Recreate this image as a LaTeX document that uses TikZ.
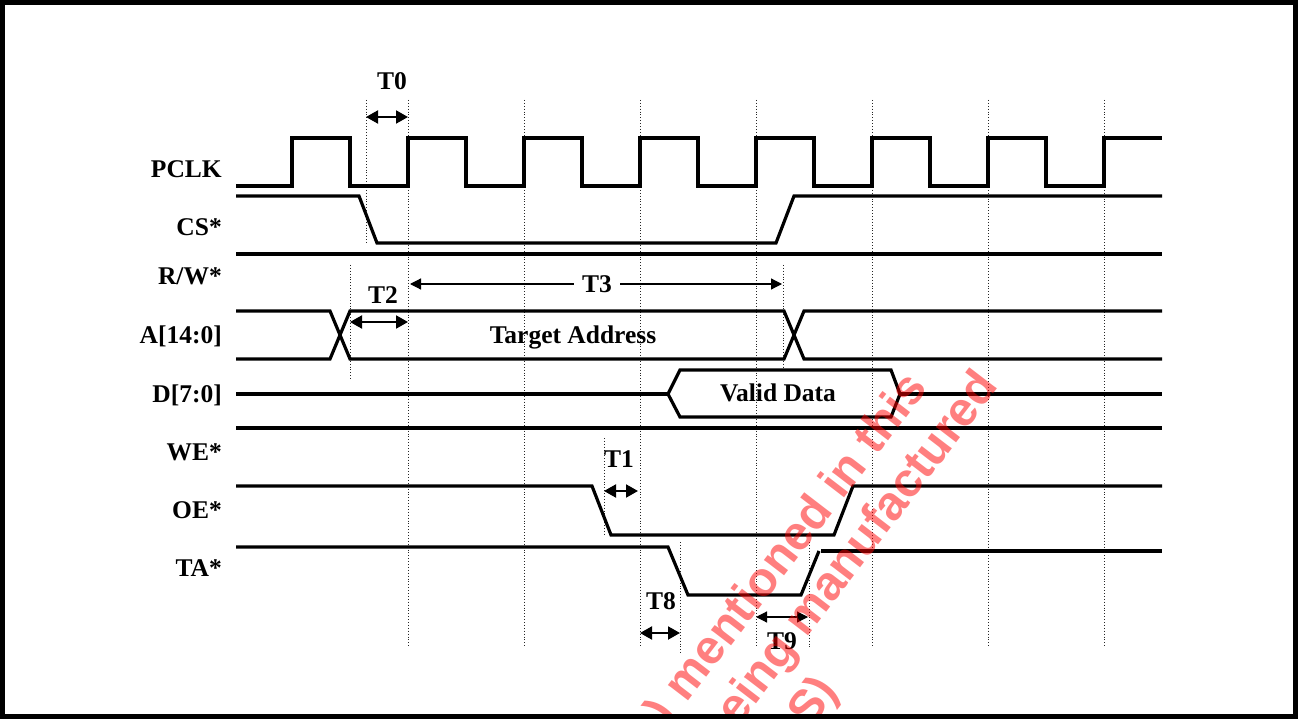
\documentclass[tikz,border=0pt]{standalone}
\usepackage{fontspec}
\setmainfont{Liberation Serif}
\newfontfamily\wmfont{Liberation Sans}
\usetikzlibrary{arrows.meta}
\begin{document}
\begin{tikzpicture}[x=1pt,y=-1pt,
  sig/.style={line width=3.2pt, line join=miter},
  gridl/.style={line width=0.9pt, dotted, black!85},
  lbl/.style={font=\fontsize{25.5}{30}\selectfont\bfseries, inner sep=0pt},
  dim/.style={line width=2pt, {Triangle[length=12pt,width=13pt]}-{Triangle[length=12pt,width=13pt]}},
  thindim/.style={line width=1.2pt, {Triangle[length=11pt,width=11pt]}-{Triangle[length=11pt,width=11pt]}},
  larr/.style={line width=1.2pt, {Triangle[length=11pt,width=11pt]}-},
  rarr/.style={line width=1.2pt, -{Triangle[length=11pt,width=11pt]}},
  wm/.style={font=\wmfont\fontsize{48}{50}\selectfont\bfseries, text=red, opacity=0.5, rotate=52.5, inner sep=0pt}
]
\useasboundingbox (0,0) rectangle (1298,719);
\fill[white] (0,0) rectangle (1298,719);

% grid lines
\foreach \gx in {408,524,640,756,872,988,1104}{
  \draw[gridl] (\gx,100) -- (\gx,648);
}
\draw[gridl] (366,100) -- (366,243);
\draw[gridl] (350,265) -- (350,380);
\draw[gridl] (783,265) -- (783,368);
\draw[gridl] (604,438) -- (604,535);
\draw[gridl] (680,542) -- (680,655);
\draw[gridl] (809,542) -- (809,648);

% labels
\node[lbl, anchor=base east] (lpclk) at (222,178) {PCLK};
\node[lbl, anchor=base east] (lcs) at (222,236) {CS*};
\node[lbl, anchor=base east] (lrw) at (222,285) {R/W*};
\node[lbl, anchor=base east] (la) at (222,343) {A[14:0]};
\node[lbl, anchor=base east] (ld) at (222,402) {D[7:0]};
\node[lbl, anchor=base east] (lwe) at (222,460) {WE*};
\node[lbl, anchor=base east] (loe) at (222,518) {OE*};
\node[lbl, anchor=base east] (lta) at (222,576) {TA*};

% PCLK
\draw[sig] (236,186) -- (292,186) -- (292,138) -- (350,138) -- (350,186)
  -- (408,186) -- (408,138) -- (466,138) -- (466,186)
  -- (524,186) -- (524,138) -- (582,138) -- (582,186)
  -- (640,186) -- (640,138) -- (698,138) -- (698,186)
  -- (756,186) -- (756,138) -- (814,138) -- (814,186)
  -- (872,186) -- (872,138) -- (930,138) -- (930,186)
  -- (988,186) -- (988,138) -- (1046,138) -- (1046,186)
  -- (1104,186) -- (1104,138) -- (1162,138);

% CS*
\draw[sig] (236,196) -- (359,196) -- (377,243) -- (776,243) -- (794,196) -- (1162,196);
% R/W*
\draw[sig] (236,254) -- (1162,254);
% A[14:0]
\draw[sig] (236,311) -- (330,311) -- (350,359) -- (784,359) -- (804,311) -- (1162,311);
\draw[sig] (236,359) -- (330,359) -- (350,311) -- (784,311) -- (804,359) -- (1162,359);
\node[lbl, anchor=base] (ta) at (573,343) {Target Address};
% D[7:0]
\draw[sig] (236,394) -- (668,394);
\draw[sig] (668,394) -- (680,370) -- (891,370) -- (900,394) -- (891,417) -- (680,417) -- cycle;
\draw[sig] (900,394) -- (1162,394);
\node[lbl, anchor=base] (vd) at (778,401) {Valid Data};
% WE*
\draw[sig] (236,428) -- (1162,428);
% OE*
\draw[sig] (236,486) -- (592,486) -- (611,535) -- (834,535) -- (853,486) -- (1162,486);
% TA*
\draw[sig] (236,547) -- (668,547) -- (688,595) -- (801,595) -- (819,551);
\draw[sig] (821,551) -- (1162,551);

% timing annotations
\coordinate (t0a) at (366,117); \coordinate (t0b) at (408,117);
\draw[dim] (t0a) -- (t0b);
\node[lbl, anchor=base] (t0) at (392,90) {T0};

\coordinate (t2a) at (350,322); \coordinate (t2b) at (408,322);
\draw[dim] (t2a) -- (t2b);
\node[lbl, anchor=base] (t2) at (383,303) {T2};

\node[lbl, anchor=base] (t3) at (597,293) {T3};
\coordinate (t3a) at (410,284); \coordinate (t3b) at (782,284);
\draw[larr] (t3a) -- ([xshift=-8pt]t3.west |- t3a);
\draw[rarr] ([xshift=8pt]t3.east |- t3b) -- (t3b);

\coordinate (t1a) at (604,491); \coordinate (t1b) at (638,491);
\draw[dim] (t1a) -- (t1b);
\node[lbl, anchor=base] (t1) at (619,467) {T1};

\coordinate (t8a) at (640,633); \coordinate (t8b) at (680,633);
\draw[dim] (t8a) -- (t8b);
\node[lbl, anchor=base] (t8) at (661,609) {T8};

\coordinate (t9a) at (756,617); \coordinate (t9b) at (808,617);
\draw[thindim] (t9a) -- (t9b);
\node[lbl, anchor=base] (t9) at (782,649) {T9};

% watermark
\begin{scope}
\clip (5,6) rectangle (1293,713);
\node[wm, anchor=mid east] (w1) at (927,387) {) mentioned in this};
\node[wm, anchor=mid east] (w2) at (998,385) {being manufactured};
\node[wm, anchor=mid east] (w3) at (838,690) {S)};
\end{scope}

% frame
\draw[line width=5pt] (2.5,3) rectangle (1295.5,716.5);
\end{tikzpicture}
\end{document}
